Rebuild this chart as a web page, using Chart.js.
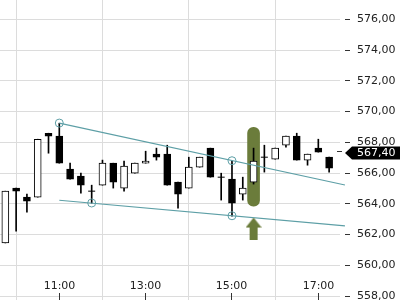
<!DOCTYPE html>
<html><head><meta charset="utf-8">
<script src="https://cdn.jsdelivr.net/npm/chart.js@4"></script>
<style>html,body{margin:0;padding:0;background:#fff}canvas{display:block}</style>
</head><body>
<canvas id="c" width="400" height="300"></canvas>
<script>
// ---- data ----
const times = ["09:45","10:00","10:15","10:30","10:45","11:00","11:15","11:30","11:45","12:00","12:15","12:30","12:45","13:00","13:15","13:30","13:45","14:00","14:15","14:30","14:45","15:00","15:15","15:30","15:45","16:00","16:15","16:30","16:45","17:00","17:15"];
const opens  = [561.45,565.02,564.43,564.43,568.59,568.40,566.25,565.80,564.82,565.21,566.64,565.02,565.99,566.64,567.23,567.23,565.41,565.02,566.38,567.62,565.73,565.60,564.63,565.41,567.03,566.90,567.81,568.40,566.84,567.62,567.03];
const highs  = [564.82,565.02,564.63,568.20,568.59,569.24,566.64,565.99,565.21,566.84,566.64,566.77,566.64,567.42,567.62,567.81,565.41,567.03,567.03,567.62,565.99,566.77,565.73,567.62,567.81,567.62,568.40,568.59,567.23,568.20,567.03];
const lows   = [561.45,562.22,563.46,564.43,567.29,566.64,565.60,564.69,564.04,565.21,565.02,564.82,565.99,566.64,566.84,565.21,563.72,565.02,566.38,565.73,564.24,563.20,564.24,565.28,566.06,566.90,567.68,566.84,566.51,567.36,566.06];
const closes = [564.82,564.82,564.17,568.20,568.40,566.64,565.60,565.21,564.82,566.64,565.41,566.45,566.64,566.77,567.03,565.21,564.63,566.38,567.03,565.73,565.73,564.04,565.02,566.77,567.03,567.62,568.40,566.84,567.23,567.36,566.32];
const xTickLabels = ["11:00","13:00","15:00","17:00"];
const yTickValues = [558,560,562,564,566,568,570,572,574,576];
const upperTrend = [["11:00",569.25],["17:37",565.22]];
const lowerTrend = [["11:00",564.23],["17:37",562.56]];
const touchPoints = [["11:00",569.25],["11:45",564.05],["15:00",566.80],["15:00",563.22]];
const highlightTime = "15:30";
const highlightRange = [563.85,568.98];
const arrowPoint = ["15:30",562.39];
const lastPrice = 567.40;

// ---- helpers ----
const toH = t => parseInt(t.slice(0,2),10) + parseInt(t.slice(3),10)/60;
const TEAL = '#5d9fa6', OLIVE = '#6b7c3b';
const fmt = v => v.toFixed(2).replace('.', ',');

const bodyData = [], bodyColors = [], dojiData = [], wickData = [];
times.forEach((t,i) => {
  const x = toH(t);
  wickData.push({x, y:[lows[i], highs[i]]});
  if (opens[i] === closes[i]) dojiData.push({x, y: opens[i]});
  else { bodyData.push({x, y:[opens[i], closes[i]]}); bodyColors.push(closes[i] > opens[i] ? '#ffffff' : '#000000'); }
});

const arrowImg = document.createElement('canvas');
arrowImg.width = 16; arrowImg.height = 22;
{ const a = arrowImg.getContext('2d'); a.fillStyle = OLIVE; a.beginPath();
  a.moveTo(8,0); a.lineTo(16,10); a.lineTo(12,10); a.lineTo(12,22); a.lineTo(4,22); a.lineTo(4,10); a.lineTo(0,10); a.closePath(); a.fill(); }

const align = p => Math.round(p - 0.5) + 0.5;

const overlay = {
  id: 'overlay',
  afterDraw(chart) {
    const ctx = chart.ctx, xs = chart.scales.x, ys = chart.scales.y;
    ctx.save();
    ctx.font = '11px "DejaVu Sans"';
    ctx.lineWidth = 1;
    xTickLabels.forEach(lbl => {
      const px = align(xs.getPixelForValue(toH(lbl)));
      ctx.fillStyle = '#fff'; ctx.fillRect(px - 18, 280, 36, 13);
      ctx.fillStyle = '#222'; ctx.textAlign = 'center'; ctx.textBaseline = 'middle';
      ctx.fillText(lbl, px, 286.5);
      ctx.strokeStyle = '#333'; ctx.beginPath(); ctx.moveTo(px, 293); ctx.lineTo(px, 300); ctx.stroke();
    });
    ctx.strokeStyle = '#333';
    yTickValues.forEach(v => {
      const py = align(ys.getPixelForValue(v));
      ctx.beginPath(); ctx.moveTo(345, py); ctx.lineTo(350, py); ctx.stroke();
    });
    // last price label
    const cy = ys.getPixelForValue(lastPrice) + 1.5;
    const ly = align(ys.getPixelForValue(lastPrice));
    ctx.beginPath(); ctx.moveTo(337, ly); ctx.lineTo(342, ly); ctx.stroke();
    ctx.fillStyle = '#000';
    ctx.beginPath(); ctx.moveTo(345, cy); ctx.lineTo(352, cy - 6.5); ctx.lineTo(400, cy - 6.5); ctx.lineTo(400, cy + 6.5); ctx.lineTo(352, cy + 6.5); ctx.closePath(); ctx.fill();
    ctx.fillStyle = '#fff'; ctx.textAlign = 'left'; ctx.textBaseline = 'middle';
    ctx.fillText(fmt(lastPrice), 357, cy);
    ctx.restore();
  }
};

Chart.defaults.font.family = 'DejaVu Sans';
Chart.defaults.font.size = 11;

new Chart(document.getElementById('c'), {
  type: 'bar',
  data: {
    datasets: [
      { type:'scatter', data: touchPoints.map(p => ({x: toH(p[0]), y: p[1]})), pointStyle:'circle', pointRadius:4, borderColor:TEAL, backgroundColor:'rgba(0,0,0,0)', borderWidth:1, order:0, clip:false },
      { type:'scatter', data: [{x: toH(arrowPoint[0]), y: arrowPoint[1]}], pointStyle: arrowImg, pointRadius: 8, order:0, clip:false },
      { type:'line', data: upperTrend.map(p => ({x: toH(p[0]), y: p[1]})), borderColor:TEAL, borderWidth:1.2, pointRadius:0, fill:false, order:1, clip:false },
      { type:'line', data: lowerTrend.map(p => ({x: toH(p[0]), y: p[1]})), borderColor:TEAL, borderWidth:1.2, pointRadius:0, fill:false, order:1, clip:false },
      { type:'scatter', data: dojiData, pointStyle:'line', pointRadius:3.5, borderColor:'#000', borderWidth:1, order:2 },
      { type:'bar', data: bodyData, backgroundColor: bodyColors, borderColor:'#000', borderWidth:1, borderSkipped:false, barThickness:7, grouped:false, order:2 },
      { type:'bar', data: wickData, backgroundColor:'#000', borderWidth:0, barThickness:1, grouped:false, order:3 },
      { type:'bar', data: [{x: toH(highlightTime), y: highlightRange}], backgroundColor: OLIVE, borderWidth:0, borderRadius:6, borderSkipped:false, barThickness:12, grouped:false, order:4 }
    ]
  },
  options: {
    responsive: false, animation: false, devicePixelRatio: 1, events: [],
    layout: { padding: 0, autoPadding: false },
    plugins: { legend: { display:false }, tooltip: { enabled:false } },
    scales: {
      x: {
        type:'linear', min: 9.6264, max: 17.502, offset:false,
        ticks: { display:false },
        grid: { color:'#dcdcdc', drawTicks:false, lineWidth:1 },
        border: { display:false },
        afterBuildTicks: s => { s.ticks = xTickLabels.map(l => ({value: toH(l)})); },
        afterFit: s => { s.height = 0; s.paddingLeft = 0; s.paddingRight = 0; }
      },
      y: {
        position:'right', min: 557.74, max: 577.256,
        ticks: { padding:17, color:'#222', font:{ size:11 }, callback: v => fmt(v) },
        grid: { color:'#dcdcdc', drawTicks:false, lineWidth:1 },
        border: { display:false },
        afterBuildTicks: s => { s.ticks = yTickValues.map(v => ({value: v})); },
        afterFit: s => { s.width = 60; s.paddingTop = 0; s.paddingBottom = 0; }
      }
    }
  },
  plugins: [overlay]
});
</script>
</body></html>
